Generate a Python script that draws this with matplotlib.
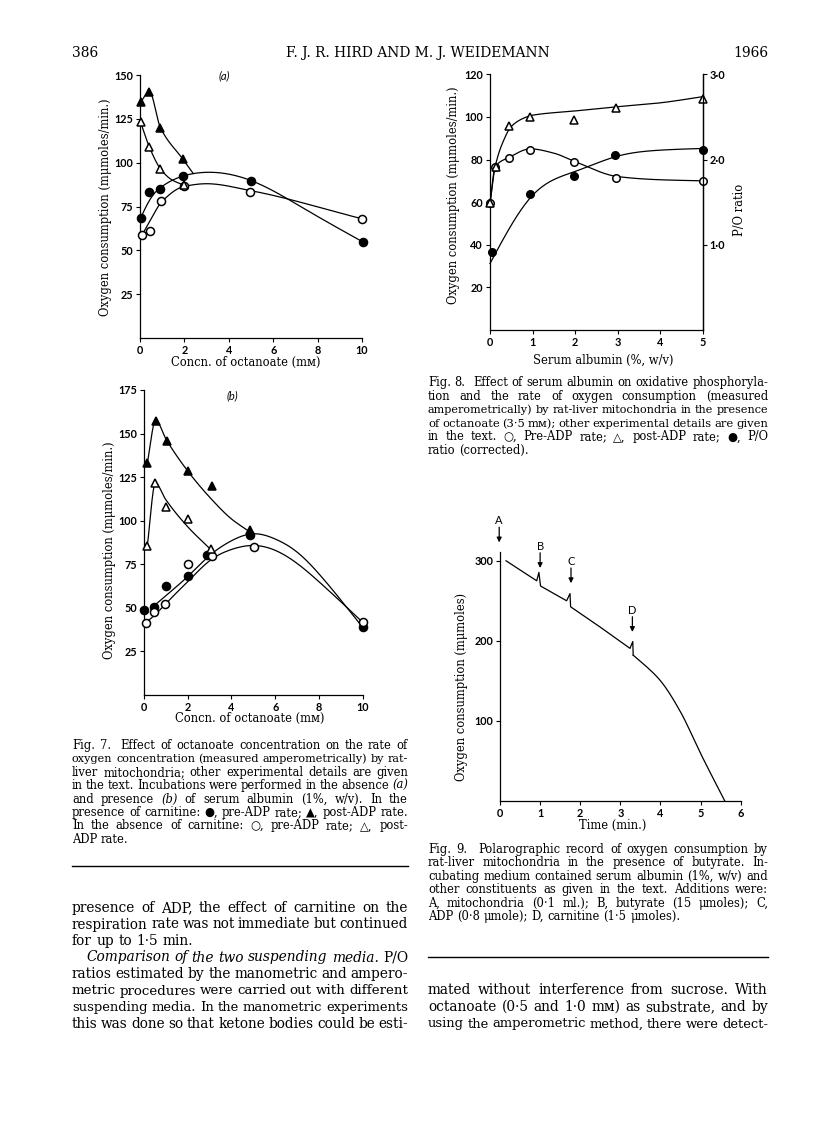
import numpy as np
import matplotlib
matplotlib.use("Agg")
import matplotlib.pyplot as plt
from matplotlib.lines import Line2D

# ---------------- data ----------------
# Fig. 7(a): no serum albumin
f7a_x_pre_carn = [0.03, 0.42, 0.92, 1.93, 4.98, 10.05]
f7a_y_pre_carn = [68.5, 83, 85, 92.6, 89.8, 54.7]
f7a_x_post_carn = [0.03, 0.42, 0.92, 1.93]
f7a_y_post_carn = [134.5, 140.5, 120, 102]
f7a_x_pre_nocarn = [0.08, 0.45, 0.93, 2.0, 4.96, 10.0]
f7a_y_pre_nocarn = [58.5, 61, 78, 86.5, 83.5, 68]
f7a_x_post_nocarn = [0.03, 0.42, 0.92, 2.0]
f7a_y_post_nocarn = [123, 109, 96.5, 87]
# hand-drawn curves of Fig. 7(a)
f7a_cx_pre_carn = [0.03, 0.5, 1.0, 2.0, 3.0, 5.0, 7.5, 10.05]
f7a_cy_pre_carn = [68.5, 80, 86.5, 92.6, 94.5, 89.8, 73, 54.7]
f7a_cx_post_carn = [0.03, 0.42, 0.92, 1.93, 2.4]
f7a_cy_post_carn = [134.5, 140.5, 120, 102, 93.8]
f7a_cx_pre_nocarn = [0.08, 0.5, 1.0, 2.0, 3.0, 5.0, 10.0]
f7a_cy_pre_nocarn = [58.5, 68, 78, 86.5, 88, 84, 68]
f7a_cx_post_nocarn = [0.03, 0.42, 0.92, 1.4, 2.0]
f7a_cy_post_nocarn = [123, 109, 96.5, 90.5, 87]

# Fig. 7(b): with serum albumin
f7b_x_pre_carn = [0.0, 0.47, 1.0, 2.0, 2.87, 4.85, 10.0]
f7b_y_pre_carn = [49, 50.5, 62.5, 68, 80.5, 92, 38.8]
f7b_x_post_carn = [0.15, 0.53, 1.04, 2.0, 3.1, 4.85]
f7b_y_post_carn = [133, 157.5, 146, 128.5, 120, 94.5]
f7b_x_pre_nocarn = [0.08, 0.47, 0.96, 2.0, 3.1, 5.03, 10.0]
f7b_y_pre_nocarn = [41.5, 47.5, 52, 75, 79.5, 84.7, 41.7]
f7b_x_post_nocarn = [0.15, 0.52, 1.0, 2.0, 3.05]
f7b_y_post_nocarn = [85.5, 121.5, 108, 101, 83.5]
f7b_cx_pre_carn = [0.35, 1.0, 2.0, 3.0, 4.0, 5.0, 6.0, 7.0, 8.0, 9.0, 10.0]
f7b_cy_pre_carn = [50, 57, 68, 80, 88.5, 92.5, 89.5, 82, 69.5, 54.5, 38.8]
f7b_cx_post_carn = [0.15, 0.53, 1.04, 2.0, 3.0, 4.0, 4.85]
f7b_cy_post_carn = [133, 157.5, 146, 128.5, 113.5, 101, 93.5]
f7b_cx_pre_nocarn = [0.08, 0.5, 1.0, 2.0, 3.0, 4.0, 5.0, 6.0, 7.0, 8.0, 9.0, 10.0]
f7b_cy_pre_nocarn = [41.5, 46, 52.5, 65, 77, 83.5, 85.8, 83, 75.5, 65, 53.5, 41.7]
f7b_cx_post_nocarn = [0.15, 0.52, 1.0, 2.0, 3.05]
f7b_cy_post_nocarn = [85.5, 121.5, 112, 96.5, 83.5]

# Fig. 8: serum albumin
f8_x_pre = [0.0, 0.12, 0.45, 0.93, 1.98, 2.97, 5.0]
f8_y_pre = [59.5, 76.5, 80.6, 84.5, 79, 71.2, 70]
f8_x_post = [0.0, 0.14, 0.45, 0.93, 1.98, 2.97, 5.0]
f8_y_post = [59.5, 76.5, 95.8, 99.8, 98.6, 104, 108.6]
f8_x_po = [0.05, 0.93, 1.98, 2.93, 5.0]
f8_y_po = [0.91, 1.59, 1.81, 2.05, 2.11]
f8_cx_pre = [0.0, 0.12, 0.45, 0.95, 1.5, 2.0, 3.0, 4.0, 5.0]
f8_cy_pre = [59.5, 76.5, 81, 85, 83, 79, 72, 70.5, 70]
f8_cx_post = [0.0, 0.12, 0.3, 0.5, 0.8, 1.0, 2.0, 3.0, 4.0, 5.0]
f8_cy_post = [59.5, 76.5, 88, 95.5, 99.5, 100.8, 102.8, 104.8, 106.6, 109.5]
f8_cx_po = [0.0, 0.5, 1.0, 2.0, 3.0, 4.0, 5.0]
f8_cy_po = [0.78, 1.23, 1.58, 1.86, 2.04, 2.11, 2.13]

# Fig. 9: polarographic trace
f9_trace_t = [0.15, 0.915, 0.97, 1.01, 1.66, 1.745, 1.76, 2.5, 3.24, 3.31, 3.32]
f9_trace_o2 = [300, 275, 285.5, 268.5, 250, 259, 242.5, 217, 190.5, 199, 182]
f9_tail_t = [3.32, 3.6, 4.0, 4.5, 5.0, 5.6]
f9_tail_o2 = [182, 170, 150, 111, 59, 0]
f9_event_labels = ["A", "B", "C", "D"]
f9_event_t = [-0.02, 1.0, 1.77, 3.3]
f9_arrow_tip = [323, 291, 272, 211]

# ---------------- helpers ----------------
W, H = 816, 1148
fig = plt.figure(figsize=(W / 100, H / 100), dpi=100)
fig.patch.set_facecolor("white")
SERIF = ["DejaVu Serif", "DejaVu Sans"]
SANS = ["Lato", "DejaVu Sans"]


def fxy(x, y):
    return x / W, 1 - y / H


def add_ax(l, t, r, b):
    return fig.add_axes([l / W, 1 - b / H, (r - l) / W, (b - t) / H])


def pchip(x, y, n=200):
    x = np.asarray(x, float); y = np.asarray(y, float)
    h = np.diff(x); d = np.diff(y) / h
    m = np.zeros_like(x)
    m[0], m[-1] = d[0], d[-1]
    for k in range(1, len(x) - 1):
        if d[k - 1] * d[k] <= 0:
            m[k] = 0
        else:
            w1 = 2 * h[k] + h[k - 1]; w2 = h[k] + 2 * h[k - 1]
            m[k] = (w1 + w2) / (w1 / d[k - 1] + w2 / d[k])
    xs, ys = [], []
    for k in range(len(x) - 1):
        t = np.linspace(0, 1, n // (len(x) - 1) + 2)
        hk = h[k]
        h00 = 2 * t**3 - 3 * t**2 + 1; h10 = t**3 - 2 * t**2 + t
        h01 = -2 * t**3 + 3 * t**2; h11 = t**3 - t**2
        xs.append(x[k] + t * hk)
        ys.append(h00 * y[k] + h10 * hk * m[k] + h01 * y[k + 1] + h11 * hk * m[k + 1])
    return np.concatenate(xs), np.concatenate(ys)


def nspline(x, y, n=300):
    x = np.asarray(x, float); y = np.asarray(y, float)
    N = len(x); h = np.diff(x)
    A = np.zeros((N, N)); b = np.zeros(N)
    A[0, 0] = 1; A[-1, -1] = 1
    for i in range(1, N - 1):
        A[i, i - 1] = h[i - 1]; A[i, i] = 2 * (h[i - 1] + h[i]); A[i, i + 1] = h[i]
        b[i] = 6 * ((y[i + 1] - y[i]) / h[i] - (y[i] - y[i - 1]) / h[i - 1])
    M = np.linalg.solve(A, b)
    xs = np.linspace(x[0], x[-1], n)
    k = np.clip(np.searchsorted(x, xs) - 1, 0, N - 2)
    t0 = x[k + 1] - xs; t1 = xs - x[k]; hk = h[k]
    ys = (M[k] * t0**3 + M[k + 1] * t1**3) / (6 * hk) + (y[k] / hk - M[k] * hk / 6) * t0 \
        + (y[k + 1] / hk - M[k + 1] * hk / 6) * t1
    return xs, ys


def style_axes(ax, right=False):
    ax.spines["top"].set_visible(False)
    ax.spines["right"].set_visible(right)
    for s in ax.spines.values():
        s.set_linewidth(0.9)
    ax.tick_params(direction="out", length=3, width=0.8, labelsize=7.8, pad=2)
    for lab in ax.get_xticklabels() + ax.get_yticklabels():
        lab.set_family(SANS)
        lab.set_weight("bold")
    ax.patch.set_alpha(0)


def curve(ax, x, y, smooth=False, lw=0.9):
    xs, ys = (nspline(x, y) if smooth else pchip(x, y))
    ax.plot(xs, ys, color="black", lw=lw, clip_on=False, zorder=2)


def pts(ax, x, y, marker, filled, ms):
    ax.plot(x, y, linestyle="none", marker=marker, ms=ms,
            mfc="black" if filled else "white", mec="black", mew=1.1,
            clip_on=False, zorder=4)


LAB = 8.3

# ---------------- Fig. 7(a) ----------------
ax = add_ax(140, 75, 362, 338)
ax.set_xlim(0, 10); ax.set_ylim(0, 150)
ax.set_xticks([0, 2, 4, 6, 8, 10]); ax.set_yticks([25, 50, 75, 100, 125, 150])
style_axes(ax)
curve(ax, f7a_cx_pre_carn, f7a_cy_pre_carn, smooth=True)
curve(ax, f7a_cx_post_carn, f7a_cy_post_carn)
curve(ax, f7a_cx_pre_nocarn, f7a_cy_pre_nocarn)
curve(ax, f7a_cx_post_nocarn, f7a_cy_post_nocarn)
pts(ax, f7a_x_pre_carn, f7a_y_pre_carn, "o", True, 5.8)
pts(ax, f7a_x_post_carn, f7a_y_post_carn, "^", True, 6.4)
pts(ax, f7a_x_pre_nocarn, f7a_y_pre_nocarn, "o", False, 5.8)
pts(ax, f7a_x_post_nocarn, f7a_y_post_nocarn, "^", False, 6.4)
fig.text(*fxy(224, 76), "(a)", family=SANS, style="italic", size=8, ha="center", va="center")
fig.text(*fxy(106, 207), "Oxygen consumption (m\u03bcmoles/min.)", family=SERIF, size=LAB,
         rotation=90, ha="center", va="center")
fig.text(*fxy(246, 362), "Concn. of octanoate (m\u1d0d)", family=SERIF, size=LAB, ha="center", va="center")

# ---------------- Fig. 7(b) ----------------
ax = add_ax(144, 390, 362.7, 695)
ax.set_xlim(0, 10); ax.set_ylim(0, 175)
ax.set_xticks([0, 2, 4, 6, 8, 10]); ax.set_yticks([25, 50, 75, 100, 125, 150, 175])
style_axes(ax)
curve(ax, f7b_cx_pre_carn, f7b_cy_pre_carn, smooth=True)
curve(ax, f7b_cx_post_carn, f7b_cy_post_carn)
curve(ax, f7b_cx_pre_nocarn, f7b_cy_pre_nocarn, smooth=True)
curve(ax, f7b_cx_post_nocarn, f7b_cy_post_nocarn)
pts(ax, f7b_x_pre_carn, f7b_y_pre_carn, "o", True, 5.8)
pts(ax, f7b_x_post_carn, f7b_y_post_carn, "^", True, 6.4)
pts(ax, f7b_x_pre_nocarn, f7b_y_pre_nocarn, "o", False, 5.8)
pts(ax, f7b_x_post_nocarn, f7b_y_post_nocarn, "^", False, 6.4)
fig.text(*fxy(232, 396), "(b)", family=SANS, style="italic", size=8, ha="center", va="center")
fig.text(*fxy(110, 550), "Oxygen consumption (m\u03bcmoles/min.)", family=SERIF, size=LAB,
         rotation=90, ha="center", va="center")
fig.text(*fxy(250, 718), "Concn. of octanoate (m\u1d0d)", family=SERIF, size=LAB, ha="center", va="center")

# ---------------- Fig. 8 ----------------
ax = add_ax(490, 74.3, 702.7, 330)
ax.set_xlim(0, 5); ax.set_ylim(0, 120)
ax.set_xticks([0, 1, 2, 3, 4, 5]); ax.set_yticks([20, 40, 60, 80, 100, 120])
style_axes(ax, right=True)
ax2 = ax.twinx()
ax2.set_ylim(0, 3.0)
ax2.set_yticks([1.0, 2.0, 3.0])
ax2.set_yticklabels(["1\u00b70", "2\u00b70", "3\u00b70"])
for s in ["top", "left", "bottom"]:
    ax2.spines[s].set_visible(False)
ax2.spines["right"].set_linewidth(0.9)
ax2.tick_params(direction="out", length=3, width=0.8, labelsize=7.8, pad=2)
for lab in ax2.get_yticklabels():
    lab.set_family(SANS)
    lab.set_weight("bold")
curve(ax, f8_cx_pre, f8_cy_pre)
curve(ax, f8_cx_post, f8_cy_post)
curve(ax2, f8_cx_po, f8_cy_po, smooth=True)
pts(ax, f8_x_pre, f8_y_pre, "o", False, 5.4)
pts(ax, f8_x_post, f8_y_post, "^", False, 5.4)
pts(ax2, f8_x_po, f8_y_po, "o", True, 5.4)
fig.text(*fxy(453, 195), "Oxygen consumption (m\u03bcmoles/min.)", family=SERIF, size=LAB,
         rotation=90, ha="center", va="center")
fig.text(*fxy(740, 210), "P/O ratio", family=SERIF, size=LAB, rotation=90, ha="center", va="center")
fig.text(*fxy(603, 360), "Serum albumin (%, w/v)", family=SERIF, size=LAB, ha="center", va="center")

# ---------------- Fig. 9 ----------------
ax = add_ax(500, 552, 740.7, 800.7)
ax.set_xlim(0, 6); ax.set_ylim(0, 311)
ax.set_xticks([0, 1, 2, 3, 4, 5, 6]); ax.set_yticks([100, 200, 300])
style_axes(ax)
ax.plot(f9_trace_t, f9_trace_o2, color="black", lw=0.9, zorder=2)
tx, ty = pchip(f9_tail_t, f9_tail_o2)
ax.plot(tx, ty, color="black", lw=0.9, zorder=2)
for lab, t, tip in zip(f9_event_labels, f9_event_t, f9_arrow_tip):
    ax.annotate("", xy=(t, tip), xytext=(t, tip + 19), annotation_clip=False,
                arrowprops=dict(arrowstyle="-|>", color="black", lw=0.9, mutation_scale=7,
                                shrinkA=0, shrinkB=0))
    ax.text(t, tip + 27, lab, family=SANS, size=8, ha="center", va="center", clip_on=False)
fig.text(*fxy(462, 687), "Oxygen consumption (m\u03bcmoles)", family=SERIF, size=LAB,
         rotation=90, ha="center", va="center")
fig.text(*fxy(613, 825), "Time (min.)", family=SERIF, size=LAB, ha="center", va="center")

# ---------------- page text ----------------
renderer = fig.canvas.get_renderer()


def measure(s, size, italic):
    t = fig.text(0, 0, s, family=SERIF, size=size, style="italic" if italic else "normal")
    w = t.get_window_extent(renderer).width
    t.remove()
    return w


def text_block(lines, x0, x1, y0, dy, size):
    space = measure("a a", size, False) - 2 * measure("a", size, False)
    for i, (line, just, indent) in enumerate(lines):
        words = line.split(" ")
        toks = []
        for w in words:
            italic = w.startswith("_") and w.endswith("_") and len(w) > 1
            toks.append((w.strip("_") if italic else w, italic))
        sz = size
        widths = [measure(s, sz, it) for s, it in toks]
        avail = x1 - x0 - indent
        if sum(widths) + (len(toks) - 1) * space * 0.8 > avail:
            sz = size * avail / (sum(widths) + (len(toks) - 1) * space * 0.8)
            widths = [measure(s, sz, it) for s, it in toks]
        if just and len(toks) > 1:
            gap = (avail - sum(widths)) / (len(toks) - 1)
        else:
            gap = space
        x = x0 + indent
        y = y0 + i * dy
        for (s, it), w in zip(toks, widths):
            fig.text(*fxy(x, y), s, family=SERIF, size=sz, style="italic" if it else "normal",
                     ha="left", va="baseline")
            x += w + gap


# header
fig.text(*fxy(72, 57), "386", family=SERIF, size=10, ha="left", va="baseline")
fig.text(*fxy(418, 57), "F. J. R. HIRD AND M. J. WEIDEMANN", family=SERIF, size=10,
         ha="center", va="baseline")
fig.text(*fxy(768, 57), "1966", family=SERIF, size=10, ha="right", va="baseline")

CAP = 8.3
cap7 = [
    ("Fig. 7.  Effect of octanoate concentration on the rate of", True, 0),
    ("oxygen concentration (measured amperometrically) by rat-", True, 0),
    ("liver mitochondria; other experimental details are given", True, 0),
    ("in the text. Incubations were performed in the absence _(a)_", True, 0),
    ("and presence _(b)_ of serum albumin (1%, w/v). In the", True, 0),
    ("presence of carnitine: \u25cf, pre-ADP rate; \u25b2, post-ADP rate.", True, 0),
    ("In the absence of carnitine: \u25cb, pre-ADP rate; \u25b3, post-", True, 0),
    ("ADP rate.", False, 0),
]
text_block(cap7, 72, 408, 749, 13.4, CAP)

cap8 = [
    ("Fig. 8.  Effect of serum albumin on oxidative phosphoryla-", True, 0),
    ("tion and the rate of oxygen consumption (measured", True, 0),
    ("amperometrically) by rat-liver mitochondria in the presence", True, 0),
    ("of octanoate (3\u00b75 m\u1d0d); other experimental details are given", True, 0),
    ("in the text. \u25cb, Pre-ADP rate; \u25b3, post-ADP rate; \u25cf, P/O", True, 0),
    ("ratio (corrected).", False, 0),
]
text_block(cap8, 428, 768, 386, 13.6, CAP)

cap9 = [
    ("Fig. 9.  Polarographic record of oxygen consumption by", True, 0),
    ("rat-liver mitochondria in the presence of butyrate. In-", True, 0),
    ("cubating medium contained serum albumin (1%, w/v) and", True, 0),
    ("other constituents as given in the text. Additions were:", True, 0),
    ("A, mitochondria (0\u00b71 ml.); B, butyrate (15 \u03bcmoles); C,", True, 0),
    ("ADP (0\u00b78 \u03bcmole); D, carnitine (1\u00b75 \u03bcmoles).", False, 0),
]
text_block(cap9, 428, 768, 853, 13.4, CAP)

# rules
fig.add_artist(Line2D([72 / W, 408 / W], [1 - 866 / H, 1 - 866 / H], color="black", lw=1.0))
fig.add_artist(Line2D([428 / W, 768 / W], [1 - 957 / H, 1 - 957 / H], color="black", lw=1.0))

BODY = 9.9
body_l = [
    ("presence of ADP, the effect of carnitine on the", True, 0),
    ("respiration rate was not immediate but continued", True, 0),
    ("for up to 1\u00b75 min.", False, 0),
    ("_Comparison_ _of_ _the_ _two_ _suspending_ _media._ P/O", True, 14),
    ("ratios estimated by the manometric and ampero-", True, 0),
    ("metric procedures were carried out with different", True, 0),
    ("suspending media. In the manometric experiments", True, 0),
    ("this was done so that ketone bodies could be esti-", True, 0),
]
text_block(body_l, 72, 408, 912, 16.5, BODY)

body_r = [
    ("mated without interference from sucrose. With", True, 0),
    ("octanoate (0\u00b75 and 1\u00b70 m\u1d0d) as substrate, and by", True, 0),
    ("using the amperometric method, there were detect-", True, 0),
]
text_block(body_r, 428, 768, 912 + 5 * 16.5, 16.5, BODY)

fig.savefig("out.png", dpi=100, facecolor="white")
